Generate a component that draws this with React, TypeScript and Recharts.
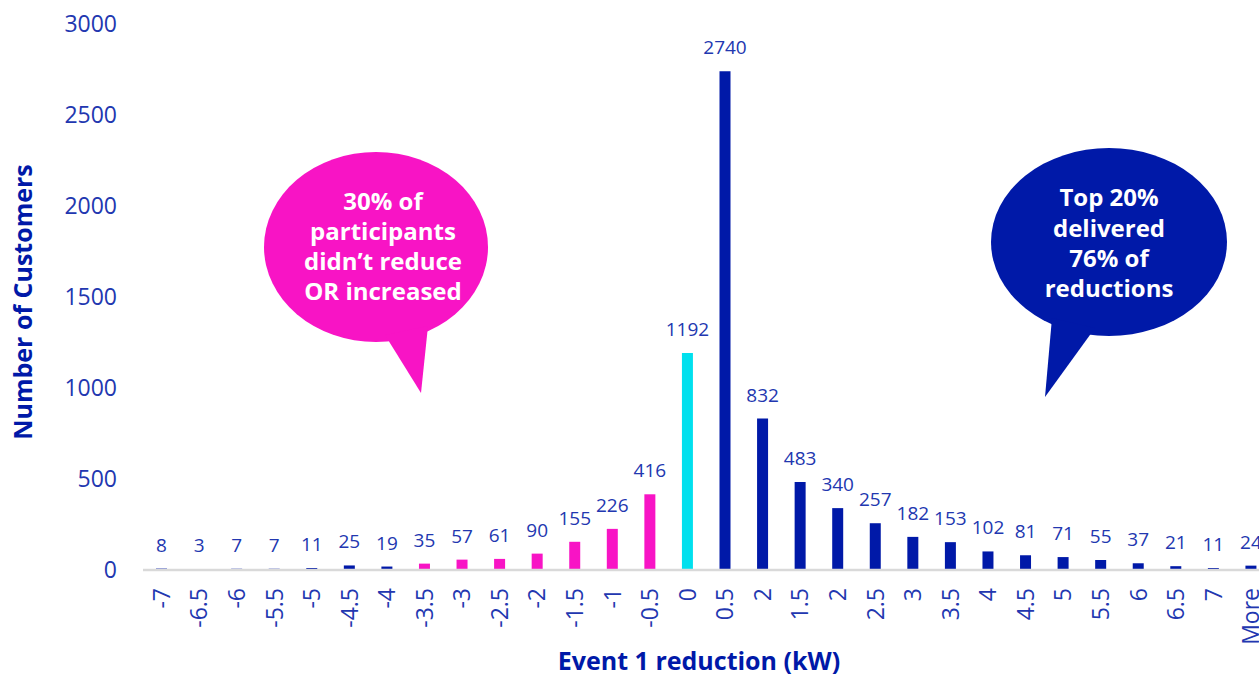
import React from 'react';
import { BarChart, Bar, XAxis, YAxis, Cell, LabelList } from 'recharts';

// Histogram bins (kW reduction during event 1) and customer counts
const bins = ['-7', '-6.5', '-6', '-5.5', '-5', '-4.5', '-4', '-3.5', '-3', '-2.5', '-2', '-1.5', '-1', '-0.5', '0', '0.5', '2', '1.5', '2', '2.5', '3', '3.5', '4', '4.5', '5', '5.5', '6', '6.5', '7', 'More'];
const customers = [8, 3, 7, 7, 11, 25, 19, 35, 57, 61, 90, 155, 226, 416, 1192, 2740, 832, 483, 340, 257, 182, 153, 102, 81, 71, 55, 37, 21, 11, 24];
const yTicks = [0, 500, 1000, 1500, 2000, 2500, 3000];

const NAVY = '#0019a8';
const PINK = '#f814c5';
const CYAN = '#00e0ee';
const TEXT_BLUE = '#2237b0';
const FONT = '"Open Sans", sans-serif';

const data = bins.map((bin, i) => ({ bin, index: i, value: customers[i] }));

// magenta for the "increased" bins (-3.5 .. -0.5), cyan for no change
const barColor = (index: number) => {
  if (index === 14) return CYAN;
  if (index >= 7 && index <= 13) return PINK;
  return NAVY;
};

const XTick = ({ x, y, payload }: any) => (
  <text
    x={x}
    y={y}
    transform={`rotate(-90, ${x}, ${y})`}
    textAnchor="end"
    dy="0.35em"
    fill={TEXT_BLUE}
    fontSize={23}
    fontFamily={FONT}
  >
    {bins[payload.value]}
  </text>
);

const Bubble = ({ cx, cy, rx, ry, tail, fill, lines, textX, baselines }: any) => (
  <g>
    <ellipse cx={cx} cy={cy} rx={rx} ry={ry} fill={fill} />
    <polygon points={tail} fill={fill} />
    {lines.map((line: string, i: number) => (
      <text
        key={i}
        x={textX}
        y={baselines[i]}
        textAnchor="middle"
        fill="#ffffff"
        fontSize={24}
        fontWeight={700}
        fontFamily={FONT}
      >
        {line}
      </text>
    ))}
  </g>
);

export default function App() {
  return (
    <div style={{ position: 'absolute', left: 0, top: 0, width: 1259, height: 675, overflow: 'hidden', background: '#fff' }}>
      <BarChart
        width={1275}
        height={675}
        data={data}
        margin={{ top: 24, right: 5, left: 0, bottom: 0 }}
        barSize={11}
      >
        <XAxis
          dataKey="index"
          type="category"
          height={105}
          axisLine={{ stroke: '#d9d9d9', strokeWidth: 2.5 }}
          tickLine={false}
          tickMargin={12}
          interval={0}
          tick={<XTick />}
          label={() => (
            <text x={699} y={670} textAnchor="middle" fill={NAVY} fontSize={25} fontWeight={700} fontFamily={FONT}>
              Event 1 reduction (kW)
            </text>
          )}
        />
        <YAxis
          width={143}
          domain={[0, 3000]}
          ticks={yTicks}
          axisLine={false}
          tickLine={false}
          tickMargin={20}
          tick={{ fill: TEXT_BLUE, fontSize: 23, fontFamily: FONT }}
          label={() => (
            <text
              x={32}
              y={302}
              transform="rotate(-90, 32, 302)"
              textAnchor="middle"
              fill={NAVY}
              fontSize={25}
              fontWeight={700}
              fontFamily={FONT}
            >
              Number of Customers
            </text>
          )}
        />
        <Bar dataKey="value" isAnimationActive={false}>
          {data.map((d) => (
            <Cell key={d.index} fill={barColor(d.index)} />
          ))}
          <LabelList dataKey="value" position="top" offset={17} fill={TEXT_BLUE} fontSize={19} fontFamily={FONT} />
        </Bar>
      </BarChart>
      <svg width={1259} height={675} style={{ position: 'absolute', left: 0, top: 0, pointerEvents: 'none' }}>
        <Bubble
          cx={376}
          cy={247}
          rx={112}
          ry={95}
          tail="385,335 428,326 421,393"
          fill={PINK}
          textX={383}
          baselines={[210, 240, 270, 300]}
          lines={['30% of', 'participants', 'didn’t reduce', 'OR increased']}
        />
        <Bubble
          cx={1109}
          cy={242}
          rx={118}
          ry={94}
          tail="1052,318 1095,328 1045,397"
          fill={NAVY}
          textX={1109}
          baselines={[206, 237, 267, 297]}
          lines={['Top 20%', 'delivered', '76% of', 'reductions']}
        />
      </svg>
    </div>
  );
}
